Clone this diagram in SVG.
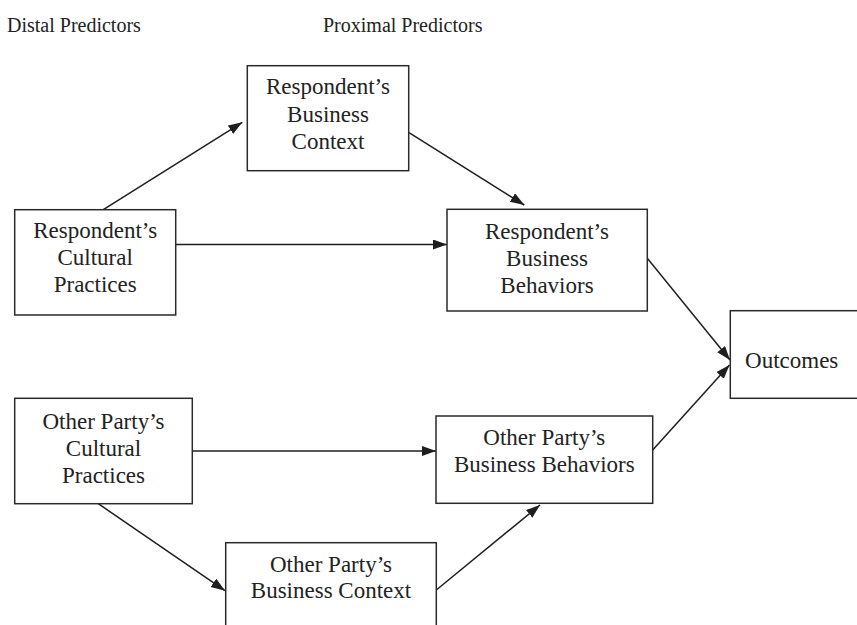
<svg xmlns="http://www.w3.org/2000/svg" width="857" height="625" viewBox="0 0 857 625">
  <style>
    .box { fill: #ffffff; stroke: #2a2a2a; stroke-width: 1.5; }
    .t { font-family: "Liberation Serif", "Times New Roman", serif; font-size: 23px; fill: #222222; text-anchor: middle; }
    .h { font-family: "Liberation Serif", "Times New Roman", serif; font-size: 20px; fill: #222222; }
    .edge { fill: none; stroke: #1e1e1e; stroke-width: 1.5; marker-end: url(#arrow); }
  </style>
  <defs>
    <marker id="arrow" markerUnits="userSpaceOnUse" markerWidth="15" markerHeight="11" refX="14" refY="5" orient="auto">
      <path d="M0,0 L14,5 L0,10 z" fill="#1e1e1e"/>
    </marker>
  </defs>
  <rect width="857" height="625" fill="#ffffff"/>

  <g id="headers">
    <text class="h" x="7" y="32">Distal Predictors</text>
    <text class="h" x="323" y="32">Proximal Predictors</text>
  </g>

  <g id="connectors">
    <line class="edge" x1="103.3" y1="209.7" x2="242.3" y2="122.3"/>
    <line class="edge" x1="409" y1="132.7" x2="524.3" y2="205"/>
    <line class="edge" x1="176" y1="244.5" x2="447" y2="244.5"/>
    <line class="edge" x1="647.3" y1="258.3" x2="730" y2="360"/>
    <line class="edge" x1="652.7" y1="450" x2="729.5" y2="365"/>
    <line class="edge" x1="192.3" y1="451" x2="436" y2="451"/>
    <line class="edge" x1="98.3" y1="503.7" x2="225" y2="590.7"/>
    <line class="edge" x1="436.3" y1="590" x2="540" y2="505"/>
  </g>

  <g id="resp-business-context">
    <rect class="box" x="247.3" y="65.7" width="161.4" height="105"/>
    <text class="t" x="328" y="94.3">Respondent’s</text>
    <text class="t" x="328" y="122">Business</text>
    <text class="t" x="328" y="149.3">Context</text>
  </g>

  <g id="resp-cultural-practices">
    <rect class="box" x="14.7" y="209.7" width="161" height="105.3"/>
    <text class="t" x="95.2" y="238.3">Respondent’s</text>
    <text class="t" x="95.2" y="265.3">Cultural</text>
    <text class="t" x="95.2" y="292.3">Practices</text>
  </g>

  <g id="resp-business-behaviors">
    <rect class="box" x="447" y="209.3" width="200.3" height="101.7"/>
    <text class="t" x="547" y="239.3">Respondent’s</text>
    <text class="t" x="547" y="266">Business</text>
    <text class="t" x="547" y="292.7">Behaviors</text>
  </g>

  <g id="outcomes">
    <rect class="box" x="730.3" y="310.7" width="140" height="87.6"/>
    <text class="t" x="791.7" y="368.3">Outcomes</text>
  </g>

  <g id="other-cultural-practices">
    <rect class="box" x="14.7" y="398.3" width="177.6" height="105.4"/>
    <text class="t" x="103.5" y="429.3">Other Party’s</text>
    <text class="t" x="103.5" y="456">Cultural</text>
    <text class="t" x="103.5" y="482.5">Practices</text>
  </g>

  <g id="other-business-behaviors">
    <rect class="box" x="436" y="416" width="216.7" height="87.3"/>
    <text class="t" x="544.3" y="445">Other Party’s</text>
    <text class="t" x="544.3" y="471.7">Business Behaviors</text>
  </g>

  <g id="other-business-context">
    <rect class="box" x="225.7" y="542.7" width="210.6" height="95"/>
    <text class="t" x="331" y="571.7">Other Party’s</text>
    <text class="t" x="331" y="598.3">Business Context</text>
  </g>
</svg>
